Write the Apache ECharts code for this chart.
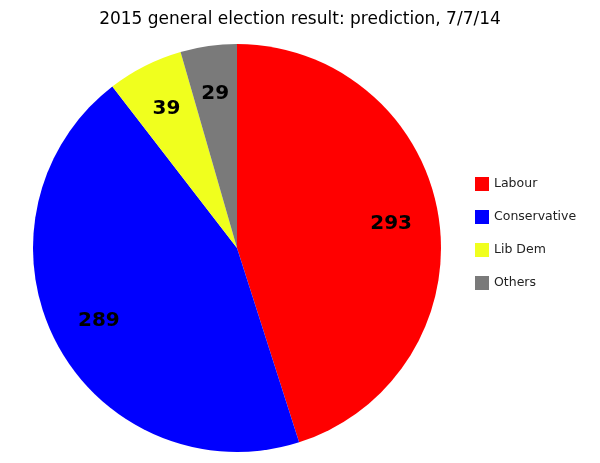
<!DOCTYPE html>
<html>
<head>
<meta charset="utf-8">
<script src="https://cdn.jsdelivr.net/npm/echarts@6/dist/echarts.min.js"></script>
<style>
  html, body { margin: 0; padding: 0; background: #fff; }
  #main { width: 600px; height: 463px; }
</style>
</head>
<body>
<div id="main"></div>
<script>
    // seats predicted
    var parties = ['Labour', 'Conservative', 'Lib Dem', 'Others'];
    var seats = [293, 289, 39, 29];
    var colours = ['#ff0000', '#0000ff', '#f0ff1e', '#7a7a7a'];

    var pieData = parties.map(function (p, i) {
        return { name: p, value: seats[i], itemStyle: { color: colours[i] } };
    });

    var myChart = echarts.init(document.getElementById('main'));
    myChart.setOption({
        animation: false,
        title: {
            text: '2015 general election result: prediction, 7/7/14',
            left: 'center',
            top: 6,
            textStyle: { fontFamily: 'DejaVu Sans', fontSize: 17, fontWeight: 'normal', color: '#000' }
        },
        legend: {
            orient: 'vertical',
            left: 475,
            top: 177,
            padding: 0,
            itemWidth: 14,
            itemHeight: 14,
            itemGap: 19,
            icon: 'rect',
            data: parties,
            textStyle: { fontFamily: 'DejaVu Sans', fontSize: 12.5, color: '#222' }
        },
        series: [
            {
                // the pie itself
                type: 'pie',
                center: [237, 248],
                radius: [0, 204],
                startAngle: 90,
                clockwise: true,
                label: { show: false },
                labelLine: { show: false },
                emphasis: { disabled: true },
                data: pieData
            },
            {
                // transparent ring so labels sit at 3/4 radius
                type: 'pie',
                center: [237, 248],
                radius: [102, 204],
                startAngle: 90,
                clockwise: true,
                silent: true,
                legendHoverLink: false,
                itemStyle: { color: 'rgba(0,0,0,0)' },
                label: {
                    show: true,
                    position: 'inside',
                    formatter: '{c}',
                    fontFamily: 'DejaVu Sans',
                    fontSize: 20,
                    fontWeight: 'bold',
                    color: '#000'
                },
                labelLine: { show: false },
                data: seats.map(function (v, i) { return { name: parties[i] + ' ', value: v }; })
            }
        ]
    });
</script>
</body>
</html>
